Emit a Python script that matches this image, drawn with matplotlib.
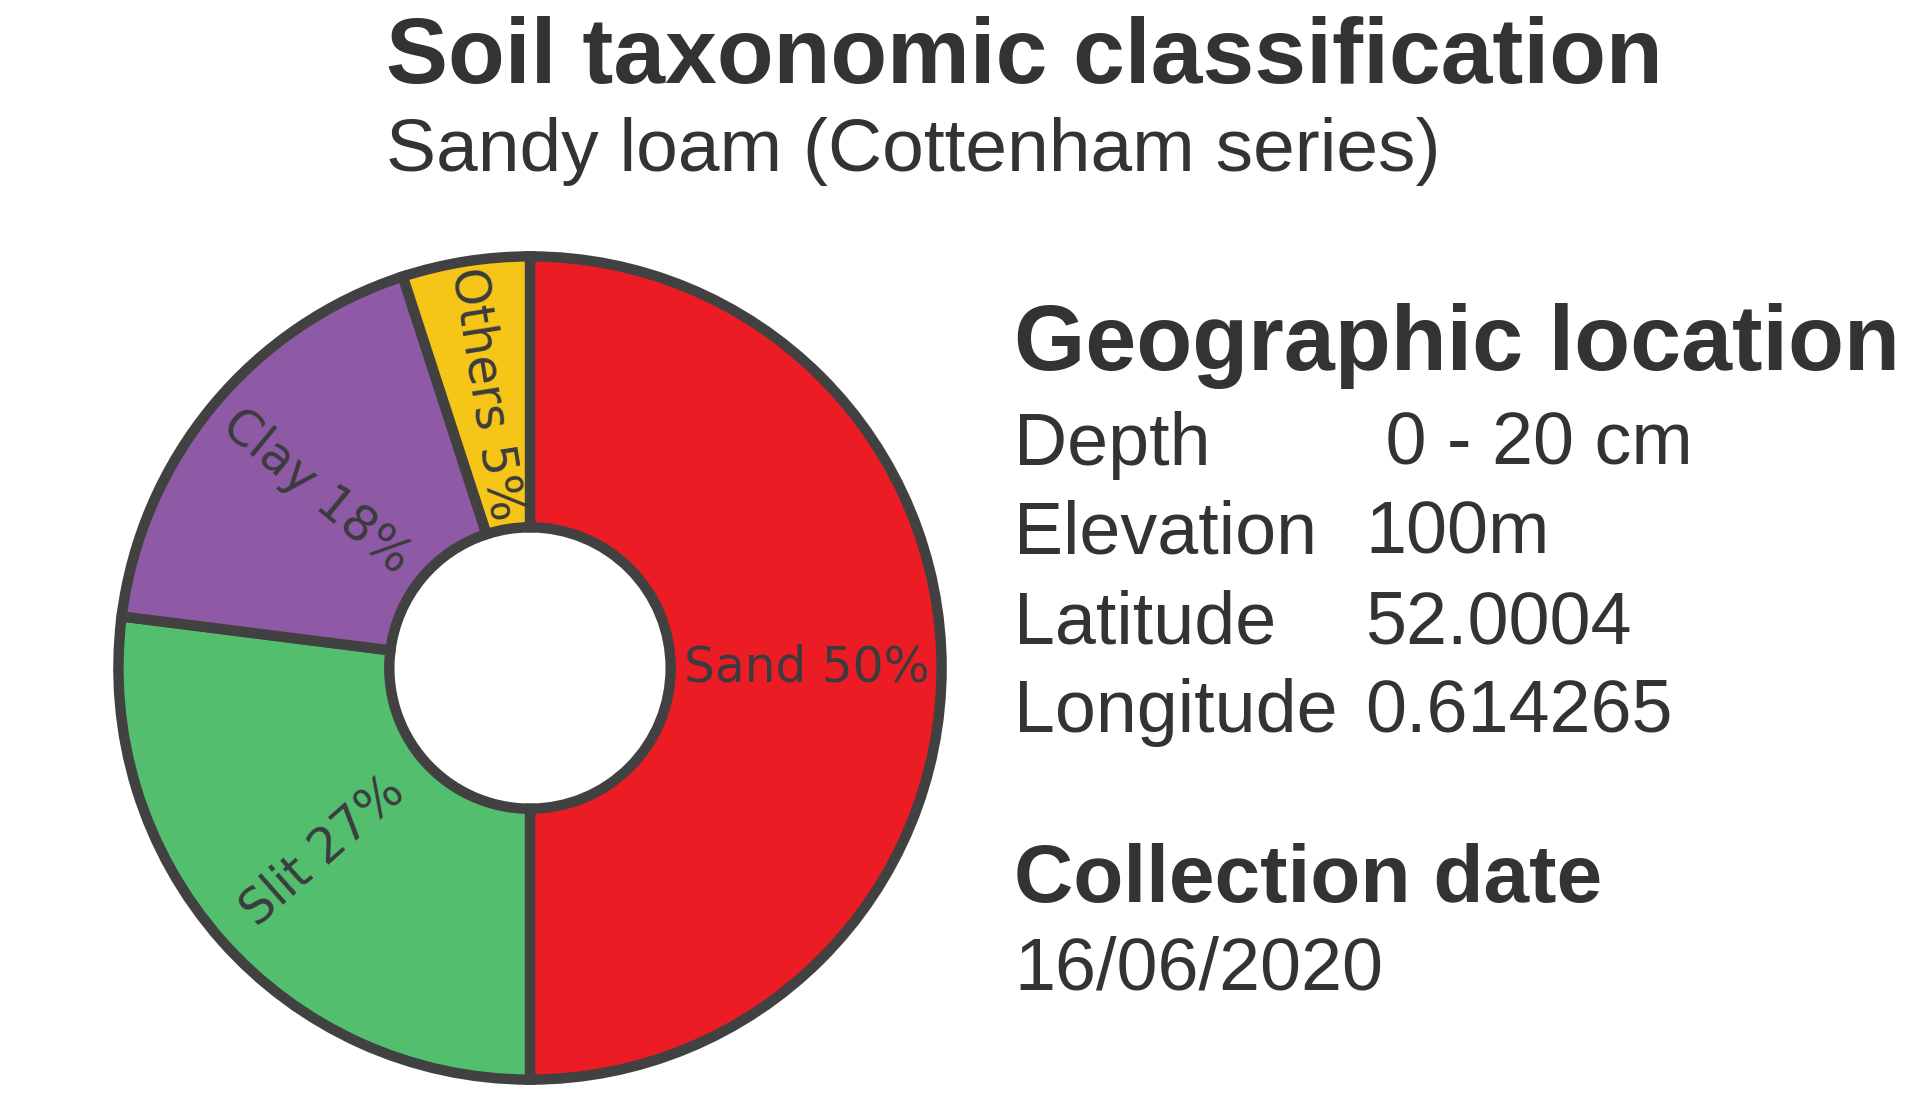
import numpy as np
import matplotlib
matplotlib.use('Agg')
from matplotlib import pyplot as plt

W, H = 1920, 1110

# soil composition (%)
soil_parts = ['Sand', 'Slit', 'Clay', 'Others']
soil_pct = [50, 27, 18, 5]
soil_colors = ['#ec1c24', '#52be6e', '#8e5aa5', '#f5c518']

info_labels = ['Depth', 'Elevation', 'Latitude', 'Longitude']
info_values = [' 0 - 20 cm', '100m', '52.0004', '0.614265']

title = 'Soil taxonomic classification'
subtitle = 'Sandy loam (Cottenham series)'
collection_date = '16/06/2020'

TXT = '#333336'
EDGE = '#414141'

plt.rcParams['font.family'] = ['Liberation Sans', 'DejaVu Sans']

fig = plt.figure(figsize=(W / 100, H / 100), dpi=100)
fig.patch.set_facecolor('white')

def fx(px):
    return px / W

def fy(py):
    return 1 - py / H

# donut
cx, cy, R = 530, 668, 420
ax = fig.add_axes([fx(cx - R), fy(cy + R), 2 * R / W, 2 * R / H])
wedges, _ = ax.pie(soil_pct, colors=soil_colors, startangle=90, counterclock=False,
                   radius=0.98,
                   wedgeprops=dict(width=0.645, edgecolor=EDGE, linewidth=7.5))
ax.set_xlim(-1, 1)
ax.set_ylim(-1, 1)
ax.set_aspect('equal')
ax.axis('off')

for w, name, p in zip(wedges, soil_parts, soil_pct):
    mid = (w.theta1 + w.theta2) / 2
    r = 0.66
    x = r * np.cos(np.radians(mid))
    y = r * np.sin(np.radians(mid))
    rot = mid - 180 if np.cos(np.radians(mid)) < 0 else mid
    ax.text(x, y, f'{name} {p}%', rotation=rot, rotation_mode='anchor',
            ha='center', va='center', fontsize=35, color='#3b3b3e',
            family=['DejaVu Sans'])

# titles
fig.text(fx(386), fy(83), title, fontsize=67, fontweight='bold', color=TXT, va='baseline')
fig.text(fx(386), fy(171), subtitle, fontsize=54, color=TXT, va='baseline')

fig.text(fx(1014), fy(370), 'Geographic location', fontsize=66, fontweight='bold',
         color=TXT, va='baseline')
row_y = [465, 553, 643, 732]
for lab, val, yy in zip(info_labels, info_values, row_y):
    fig.text(fx(1014), fy(yy), lab, fontsize=53, color=TXT, va='baseline')
    fig.text(fx(1365), fy(yy), val, fontsize=53, color=TXT, va='baseline')

fig.text(fx(1014), fy(902), 'Collection date', fontsize=59, fontweight='bold',
         color=TXT, va='baseline')
fig.text(fx(1014), fy(989), collection_date, fontsize=53, color=TXT, va='baseline')

fig.savefig('out.png', dpi=100, facecolor='white')
